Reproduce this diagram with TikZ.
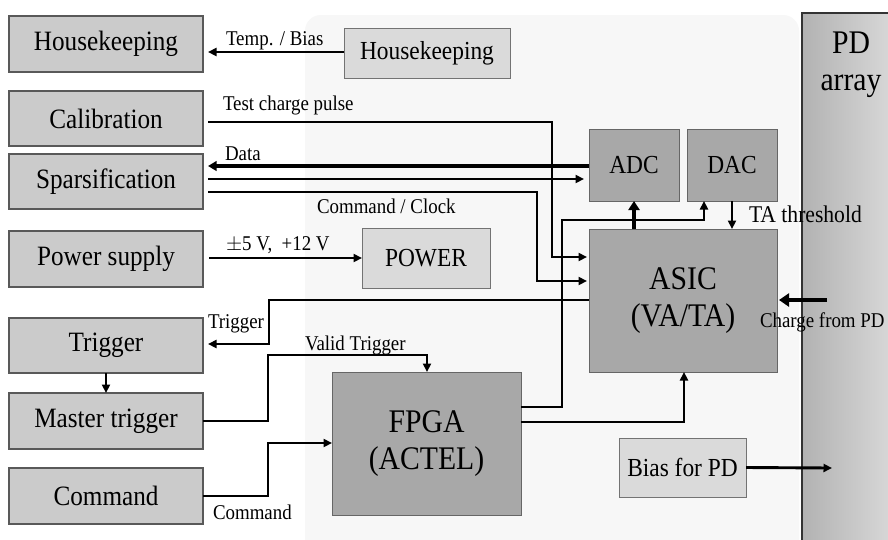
\documentclass[tikz,border=0pt]{standalone}
\usepackage{fontspec}
\setmainfont[FakeStretch=0.9]{Liberation Serif}
\usetikzlibrary{arrows.meta}
\definecolor{panelc}{HTML}{F7F7F7}
\definecolor{lboxc}{HTML}{CBCBCB}
\definecolor{iboxc}{HTML}{DADADA}
\definecolor{dboxc}{HTML}{A8A8A8}
\definecolor{pdl}{HTML}{B2B2B2}
\definecolor{pdr}{HTML}{D8D8D8}
\begin{document}
\begin{tikzpicture}[x=1pt,y=-1pt,
  every node/.style={inner sep=0pt,outer sep=0pt},
  lbox/.style={draw=black!65,line width=1.3pt,fill=lboxc,anchor=north west,minimum width=194pt,
     font=\fontsize{28}{32}\selectfont},
  ibox/.style={draw=black!55,line width=1pt,fill=iboxc,anchor=north west,
     font=\fontsize{26}{30}\selectfont},
  dbox/.style={draw=black!60,line width=1pt,fill=dboxc,anchor=north west,
     font=\fontsize{26}{30}\selectfont},
  bigtxt/.style={font=\fontsize{33}{37}\selectfont,align=center},
  lbl/.style={anchor=base west,font=\fontsize{21}{24}\selectfont},
  conn/.style={line width=2.9pt,line join=miter},
  arr/.style={conn,-{Triangle[length=8.5pt,width=8pt]}},
  thickarr/.style={line width=4.2pt,-{Triangle[length=9pt,width=11pt]}},
]
\useasboundingbox (0,0) rectangle (888,539);
\fill[white] (0,0) rectangle (888,539);
% panel
\fill[panelc,rounded corners=16pt] (305,15) rectangle (799,560);
% PD array
\node[anchor=north west,minimum width=90pt,minimum height=530pt,left color=pdl,right color=pdr,
  draw=black!80,line width=1.6pt] (pd) at (802,13) {};
\node[bigtxt,anchor=north] (pdt) at (851,32) {PD\\array};

% left boxes
\node[lbox,minimum height=56pt] (hkL) at (9,16) {Housekeeping};
\node[lbox,minimum height=55pt] (cal) at (9,91) {Calibration};
\node[lbox,minimum height=55pt] (spa) at (9,154) {Sparsification};
\node[lbox,minimum height=56pt] (pow) at (9,231) {Power supply};
\node[lbox,minimum height=55pt] (trg) at (9,318) {Trigger};
\node[lbox,minimum height=56pt] (mtr) at (9,393) {Master trigger};
\node[lbox,minimum height=56pt] (cmd) at (9,468) {Command};

% inner boxes
\node[ibox,minimum width=166pt,minimum height=50pt] (hkI) at (344,28) {Housekeeping};
\node[ibox,minimum width=128pt,minimum height=60pt] (pwr) at (362,228) {POWER};
\node[ibox,minimum width=127pt,minimum height=59pt] (bias) at (619,438) {Bias for PD};
\node[dbox,minimum width=90pt,minimum height=72pt] (adc) at (589,129) {ADC};
\node[dbox,minimum width=90pt,minimum height=72pt] (dac) at (687,129) {DAC};
\node[dbox,minimum width=188pt,minimum height=143pt,bigtxt] (asic) at (589,229) {ASIC\\(VA/TA)};
\node[dbox,minimum width=189pt,minimum height=143pt,bigtxt] (fpga) at (332,372) {FPGA\\(ACTEL)};

\coordinate (chg) at (827,300);
\coordinate (biasend) at (832,468);

% connectors
\draw[arr] (hkI.west |- 0,52) -- ([xshift=5pt]hkL.east |- 0,52);
\node[lbl] (l1) at (226,45) {Temp. / Bias};

\draw[arr] ([xshift=5pt]cal.east |- 0,122) -- (552,122) -- (552,257) -- ([xshift=-2pt]asic.west |- 0,257);
\node[lbl] (l2) at (223,110) {Test charge pulse};

\draw[conn,line width=4.2pt,-{Triangle[length=8.5pt,width=9.5pt]}] (adc.west |- 0,166) -- ([xshift=5pt]spa.east |- 0,166);
\node[lbl] (l3) at (225,160) {Data};

\draw[arr] ([xshift=5pt]spa.east |- 0,179) -- ([xshift=-5pt]adc.west |- 0,179);

\draw[arr] ([xshift=5pt]spa.east |- 0,192) -- (537,192) -- (537,281) -- ([xshift=-2pt]asic.west |- 0,281);
\node[lbl] (l4) at (317,213) {Command / Clock};

\draw[arr] ([xshift=6pt]pow.east |- 0,258) -- (pwr.west |- 0,258);
\node[lbl] (l5) at (226,250) {$\pm$5 V,\ \ +12 V};

\draw[arr] (asic.west |- 0,300) -- (269,300) -- (269,344) -- ([xshift=5pt]trg.east |- 0,344);
\node[lbl] (l6) at (208,328) {Trigger};

\draw[arr] (trg.south) -- (mtr.north);

\draw[arr] (mtr.east) -- (268,421) -- (268,355) -- (427,355) -- (fpga.north -| 427,0);
\node[lbl] (l7) at (305,350) {Valid Trigger};

\draw[arr] (cmd.east) -- (268,496) -- (268,443) -- (fpga.west |- 0,443);
\node[lbl] (l8) at (213,519) {Command};

\draw[arr] (fpga.east |- 0,407) -- (562,407) -- (562,220) -- (704,220) -- (dac.south -| 704,0);

\draw[thickarr] (asic.north -| adc.south) -- (adc.south);

\draw[arr] (dac.south) -- (dac.south |- asic.north);
\node[lbl,font=\fontsize{24}{28}\selectfont] (l9) at (749,222) {TA threshold};

\draw[arr] (fpga.east |- 0,422) -- (684,422) -- (asic.south -| 684,0);

\draw[thickarr,-{Triangle[length=10pt,width=13pt]}] (chg) -- ([xshift=2pt]asic.east |- chg);
\node[lbl] (l10) at (760,327) {Charge from PD};

\draw[arr] (bias.east) -- (biasend);
\end{tikzpicture}
\end{document}
